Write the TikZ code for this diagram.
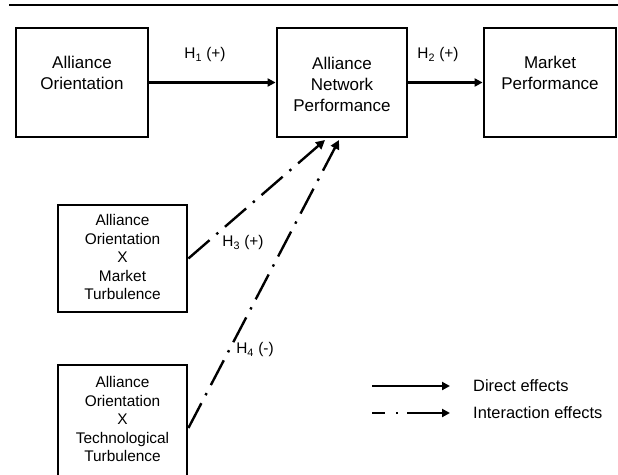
\documentclass[tikz,border=0pt]{standalone}
\usepackage{fontspec}
\setmainfont{Liberation Sans}
\usetikzlibrary{arrows.meta,calc}
\begin{document}
\begin{tikzpicture}[x=1pt,y=-1pt,
  box/.style={draw,line width=2.8pt,inner sep=0pt},
  big/.style={font=\fontsize{17}{21}\selectfont,align=center,inner sep=0pt},
  small/.style={font=\fontsize{15.4}{18.5}\selectfont,align=center,inner sep=0pt},
  lab/.style={font=\fontsize{15.4}{18}\selectfont,inner sep=0pt},
  legtext/.style={font=\fontsize{16.4}{19}\selectfont,inner sep=0pt,anchor=west},
  direct/.style={line width=2.4pt,-{Triangle[length=8pt,width=8pt]}},
  inter/.style={line width=2.4pt,dash pattern=on 28pt off 9pt on 2.4pt off 9pt,-{Triangle[length=9pt,width=9pt]}}]
\useasboundingbox (0,0) rectangle (618,474);
% top rule
\draw[line width=2.4pt] (9,5) -- (618,5);
% boxes
\node[box,minimum width=132pt,minimum height=109pt] (b1) at (82,82.5) {};
\node[box,minimum width=130pt,minimum height=109pt] (b2) at (342,82.5) {};
\node[box,minimum width=132pt,minimum height=109pt] (b3) at (550,82.5) {};
\node[box,minimum width=129pt,minimum height=107pt] (mt) at (122.5,258.5) {};
\node[box,minimum width=129pt,minimum height=126pt] (tt) at (122.5,428) {};
% texts
\node[big] (t1) at (82,73) {Alliance\\Orientation};
\node[big] (t2) at (342,84.5) {Alliance\\Network\\Performance};
\node[big] (t3) at (550,73) {Market\\Performance};
\node[small] (t4) at (122.5,257) {Alliance\\Orientation\\X\\Market\\Turbulence};
\node[small] (t5) at (122.5,419) {Alliance\\Orientation\\X\\Technological\\Turbulence};
% connectors
\draw[direct] (b1.east) -- (b2.west);
\draw[direct] (b2.east) -- (b3.west);
\coordinate (e3) at (325,140);
\coordinate (e4) at (339,140);
\draw[inter] (mt.east) -- (e3);
\draw[inter] (tt.east) -- (e4);
% labels
\node[lab] (h1) at (205,55) {H\textsubscript{1} (+)};
\node[lab] (h2) at (438,55) {H\textsubscript{2} (+)};
\node[lab] (h3) at (243,243) {H\textsubscript{3} (+)};
\node[lab] (h4) at (255,350) {H\textsubscript{4} (-)};
% legend
\coordinate (l1a) at (372,386);
\coordinate (l1b) at (450,386);
\coordinate (l2a) at (372,413);
\coordinate (l2b) at (450,413);
\draw[direct] (l1a) -- (l1b);
\draw[line width=2.4pt,dash pattern=on 13pt off 11pt on 2.4pt off 9pt on 60pt,-{Triangle[length=8pt,width=8pt]}] (l2a) -- (l2b);
\node[legtext] (ld) at (473,386) {Direct effects};
\node[legtext] (li) at (473,413) {Interaction effects};
\end{tikzpicture}
\end{document}
